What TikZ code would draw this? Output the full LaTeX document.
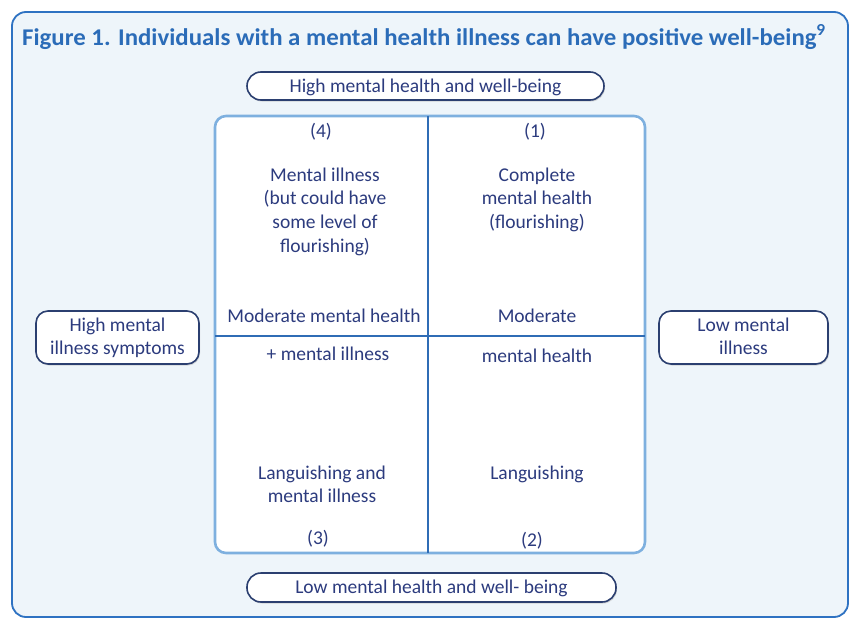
\documentclass[tikz,border=0pt]{standalone}
\usepackage{fontspec}
\setmainfont{Carlito}
\usetikzlibrary{shadows}
\definecolor{outerfill}{HTML}{EEF5FA}
\definecolor{outerline}{HTML}{2E72C2}
\definecolor{gridline}{HTML}{7EB0DF}
\definecolor{divline}{HTML}{2F6CB5}
\definecolor{txt}{HTML}{2C3B7E}
\definecolor{titlecol}{HTML}{2B6CB8}
\definecolor{pillline}{HTML}{2B3F70}
\tikzset{
  lbl/.style={text=txt, font=\fontsize{19.5}{23.8}\selectfont, align=center, inner sep=0pt, anchor=base},
  pill/.style={draw=pillline, line width=1.6pt, fill=white, rounded corners=14pt,
     drop shadow={shadow xshift=1pt, shadow yshift=-1.5pt, fill=black!30}},
  sidebox/.style={draw=pillline, line width=1.6pt, fill=white, rounded corners=12pt,
     drop shadow={shadow xshift=1pt, shadow yshift=-1.5pt, fill=black!30}}
}
\begin{document}
\begin{tikzpicture}[x=1pt,y=-1pt]
\useasboundingbox (0,0) rectangle (860,635);
\fill[white] (0,0) rectangle (860,635);
% outer panel
\draw[draw=outerline, line width=1.8pt, fill=outerfill, rounded corners=14pt] (12,12) rectangle (848,617);
\node[text=titlecol, font=\fontsize{24}{28}\bfseries\selectfont, inner sep=0pt, anchor=base west] (title) at (22,45)
  {\scalebox{1.035}[1]{Figure 1. Individuals with a mental health illness can have positive well-being\textsuperscript{9}}};
% grid
\draw[fill=white, draw=gridline, line width=2.6pt, rounded corners=11pt] (215,116) rectangle (645,553);
\coordinate (vt) at (428,116);
\coordinate (vb) at (428,553);
\coordinate (hl) at (215,336);
\coordinate (hr) at (645,336);
\draw[divline, line width=1.4pt] (vt) -- (vb);
\draw[divline, line width=1.4pt] (hl) -- (hr);
% pills
\draw[pill] (247,72) rectangle (604,100);
\node[lbl] (top) at (425.5,92) {High mental health and well-being};
\draw[pill] (247,573) rectangle (616,602);
\node[lbl] (bottom) at (431.5,593.5) {Low mental health and well- being};
\draw[sidebox] (36,311) rectangle (199,364);
\node[lbl] (left) at (117.5,354.8) {High mental\\illness symptoms};
\draw[sidebox] (659,311) rectangle (828,364);
\node[lbl] (right) at (743.5,354.8) {Low mental\\illness};
% quadrant texts
\node[lbl] (n4) at (321,137) {(4)};
\node[lbl] (n1) at (535,137) {(1)};
\node[lbl] (q4) at (325,252.4) {Mental illness\\(but could have\\some level of\\flourishing)};
\node[lbl] (q1) at (537,228.6) {Complete\\mental health\\(flourishing)};
\node[lbl] (m4) at (324,322) {Moderate mental health};
\node[lbl] (m1) at (537,322) {Moderate};
\node[lbl] (m3) at (328,360) {+ mental illness};
\node[lbl] (m2) at (537,362) {mental health};
\node[lbl] (q3) at (322,502.8) {Languishing and\\mental illness};
\node[lbl] (q2) at (537,479) {Languishing};
\node[lbl] (n3) at (318,544) {(3)};
\node[lbl] (n2) at (532,546) {(2)};
\end{tikzpicture}
\end{document}
